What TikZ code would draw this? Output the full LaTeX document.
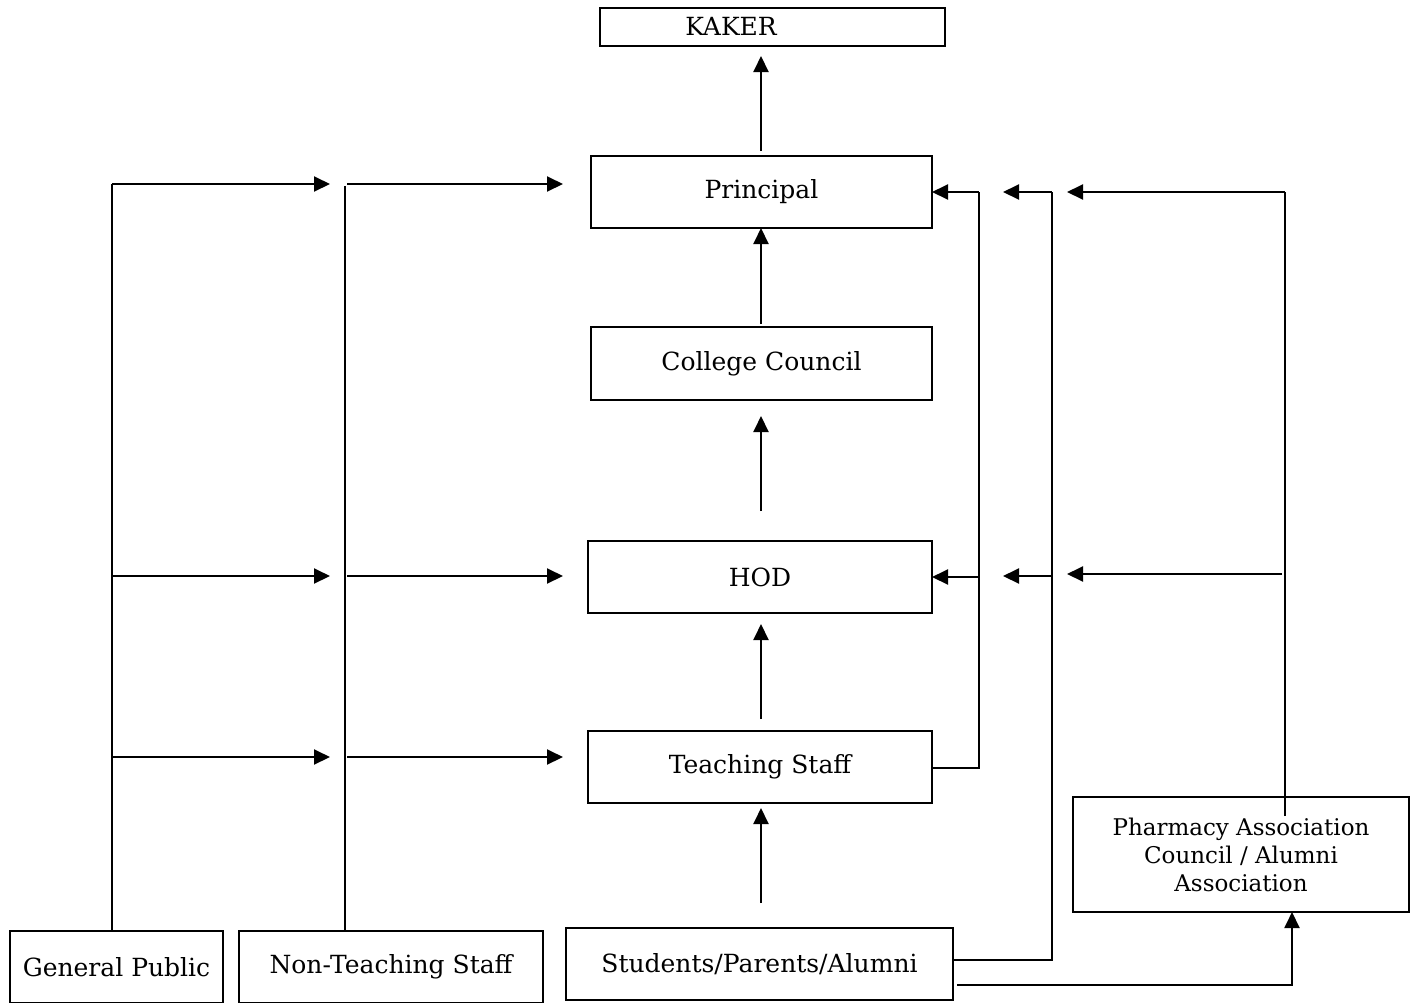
\documentclass[tikz,border=0pt]{standalone}
\usepackage{fontspec}
\setmainfont{DejaVu Serif}
\usetikzlibrary{arrows.meta}
\begin{document}
\begin{tikzpicture}[x=1pt,y=-1pt,
  box/.style={draw,line width=2pt,inner sep=0pt,outer sep=0pt,align=center,
    font=\fontsize{25}{28}\selectfont},
  lbl/.style={inner sep=0pt,font=\fontsize{25}{28}\selectfont},
  conn/.style={line width=2pt},
  arr/.style={line width=2pt,-{Triangle[length=16pt,width=15pt]}}]
\useasboundingbox (0,0) rectangle (1416,1002);
\fill[white] (0,0) rectangle (1416,1002);
% boxes
\node[box,minimum width=345pt,minimum height=38pt] (kaker) at (772.5,27) {};
\node[lbl] (kakerlbl) at (731,26) {KAKER};
\node[box,minimum width=341pt,minimum height=72pt] (principal) at (761.5,192) {Principal};
\node[box,minimum width=341pt,minimum height=73pt] (council) at (761.5,363.5) {College Council};
\node[box,minimum width=344pt,minimum height=72pt] (hod) at (760,577) {HOD};
\node[box,minimum width=344pt,minimum height=72pt] (teach) at (760,767) {Teaching Staff};
\node[box,minimum width=387pt,minimum height=72pt] (students) at (759.5,964) {Students/Parents/Alumni};
\node[box,minimum width=213pt,minimum height=72pt] (gp) at (116.5,967) {General Public};
\node[box,minimum width=304pt,minimum height=72pt] (nts) at (391,967) {Non-Teaching Staff};
\node[box,minimum width=336pt,minimum height=115pt,font=\fontsize{23}{28}\selectfont] (pharm) at (1241,854.5) {Pharmacy Association\\Council / Alumni\\Association};
% central column
\coordinate (k1) at (761,151); \coordinate (k2) at (761,56);
\draw[arr] (k1) -- (k2);
\coordinate (c1) at (761,324);
\draw[arr] (c1) -- (c1 |- principal.south);
\coordinate (h1) at (761,511); \coordinate (h2) at (761,416);
\draw[arr] (h1) -- (h2);
\coordinate (t1) at (761,719); \coordinate (t2) at (761,624);
\draw[arr] (t1) -- (t2);
\coordinate (s1) at (761,903); \coordinate (s2) at (761,808);
\draw[arr] (s1) -- (s2);
% left: general public
\coordinate (gpv) at (112,184);
\coordinate (gpa1) at (330,184);
\coordinate (gpm) at (112,576); \coordinate (gpa2) at (330,576);
\coordinate (gpl) at (112,757); \coordinate (gpa3) at (330,757);
\draw[conn] (gp.north -| gpv) -- (gpv);
\draw[arr] (gpv) -- (gpa1);
\draw[arr] (gpm) -- (gpa2);
\draw[arr] (gpl) -- (gpa3);
% left: non-teaching staff
\coordinate (ntv) at (345,186);
\draw[conn] (nts.north -| ntv) -- (ntv);
\coordinate (nta1s) at (347,184); \coordinate (nta1) at (563,184);
\coordinate (nta2s) at (347,576); \coordinate (nta2) at (563,576);
\coordinate (nta3s) at (347,757); \coordinate (nta3) at (563,757);
\draw[arr] (nta1s) -- (nta1);
\draw[arr] (nta2s) -- (nta2);
\draw[arr] (nta3s) -- (nta3);
% right: teaching staff
\coordinate (tsb) at (979,768); \coordinate (tst) at (979,192); \coordinate (tsm) at (979,577);
\draw[conn] (teach.east |- tsb) -- (tsb) -- (tst);
\draw[arr] (tst) -- (principal.east);
\draw[arr] (tsm) -- (hod.east);
% right: students
\coordinate (stb) at (1052,960); \coordinate (stt) at (1052,192); \coordinate (stm) at (1052,576);
\coordinate (sta1) at (1003,192); \coordinate (sta2) at (1003,576);
\draw[conn] (students.east |- stb) -- (stb) -- (stt);
\draw[arr] (stt) -- (sta1);
\draw[arr] (stm) -- (sta2);
% right: pharmacy
\coordinate (phb) at (1285,816); \coordinate (pht) at (1285,192);
\coordinate (phm) at (1282,574);
\coordinate (pha1) at (1067,192); \coordinate (pha2) at (1067,574);
\draw[conn] (phb) -- (pht);
\draw[arr] (pht) -- (pha1);
\draw[arr] (phm) -- (pha2);
% students to pharmacy
\coordinate (sp1) at (957,985); \coordinate (sp2) at (1292,985);
\draw[arr] (sp1) -- (sp2) -- (sp2 |- pharm.south);
\end{tikzpicture}
\end{document}
